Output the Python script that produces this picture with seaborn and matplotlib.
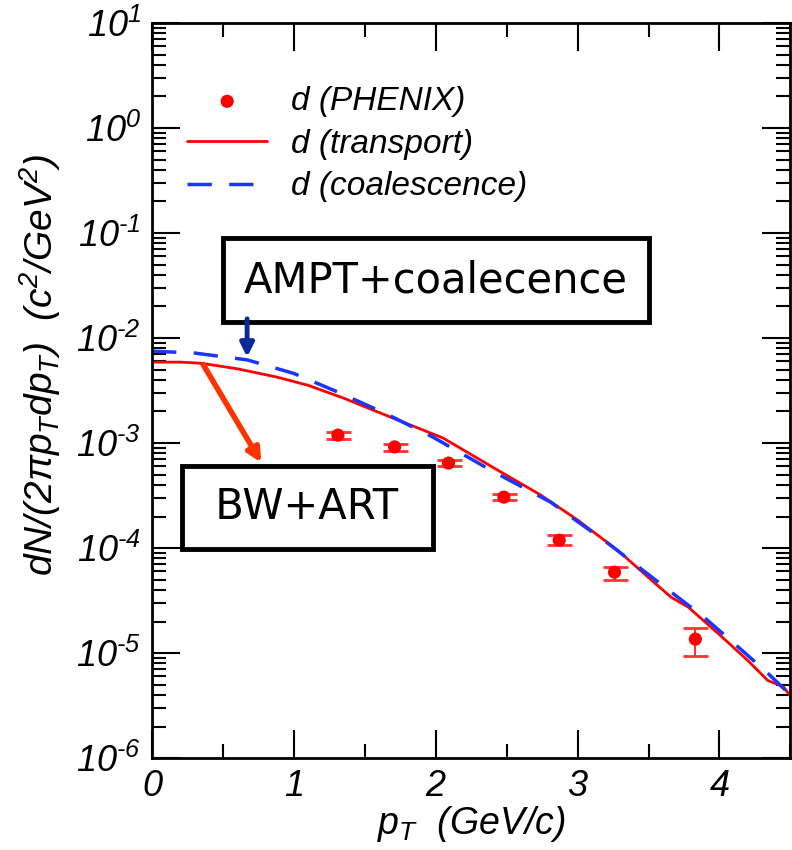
import matplotlib
matplotlib.use("Agg")
import matplotlib.pyplot as plt
import matplotlib.ticker as mticker
import numpy as np
import pandas as pd
import seaborn as sns

# PHENIX deuteron data
pt_data = [1.31, 1.71, 2.09, 2.48, 2.87, 3.26, 3.83]
y_data = [1.19e-3, 9.2e-4, 6.45e-4, 3.06e-4, 1.19e-4, 5.9e-5, 1.36e-5]
y_lo = [1.10e-3, 8.5e-4, 6.0e-4, 2.85e-4, 1.06e-4, 5.0e-5, 9.4e-6]
y_hi = [1.28e-3, 9.9e-4, 6.9e-4, 3.3e-4, 1.34e-4, 6.6e-5, 1.73e-5]

# transport curve
pt_transport = [0, 0.2, 0.35, 0.6, 0.88, 1.1, 1.35, 1.68, 2.05, 2.41, 2.74, 3.0,
                3.28, 3.54, 3.66, 3.78, 4.0, 4.2, 4.34, 4.45, 4.5]
y_transport = [5.9e-3, 5.9e-3, 5.75e-3, 5.1e-3, 4.25e-3, 3.55e-3, 2.68e-3, 1.77e-3,
               1.12e-3, 5.8e-4, 3.2e-4, 1.85e-4, 9.6e-5, 4.7e-5, 3.4e-5, 2.74e-5,
               1.5e-5, 8.5e-6, 5.5e-6, 4.8e-6, 3.9e-6]

# coalescence curve
pt_coal = [0, 0.3, 0.67, 1.0, 1.31, 1.65, 1.98, 2.4, 2.81, 3.23, 3.6, 3.89, 4.1, 4.34, 4.5]
y_coal = [7.5e-3, 7.2e-3, 6.2e-3, 4.6e-3, 3.06e-3, 1.9e-3, 1.14e-3, 5.4e-4, 2.74e-4,
          1.07e-4, 4.4e-5, 2.2e-5, 1.25e-5, 6.45e-6, 4.0e-6]

sns.set_style("ticks")
plt.rcParams['font.family'] = ['Liberation Sans', 'DejaVu Sans']
plt.rcParams.update({
    'text.color': 'black', 'axes.labelcolor': 'black',
    'xtick.color': 'black', 'ytick.color': 'black', 'axes.edgecolor': 'black',
    'axes.unicode_minus': False,
    'mathtext.fontset': 'custom',
    'mathtext.rm': 'Liberation Sans:italic',
    'mathtext.it': 'Liberation Sans:italic',
    'mathtext.sf': 'Liberation Sans:italic',
})

fig = plt.figure(figsize=(7.92, 8.5), dpi=100)
ax = fig.add_axes([0.192, 0.108, 0.806, 0.865])

df_t = pd.DataFrame({'pt': pt_transport, 'y': y_transport})
df_c = pd.DataFrame({'pt': pt_coal, 'y': y_coal})

sns.lineplot(data=df_t, x='pt', y='y', ax=ax, color='#ff0000', lw=2,
             label='d (transport)', legend=False)
sns.lineplot(data=df_c, x='pt', y='y', ax=ax, color='#1a35ff', lw=2.5,
             label='d (coalescence)', legend=False)
ax.lines[1].set_dashes([7, 5])

yerr = [np.array(y_data) - np.array(y_lo), np.array(y_hi) - np.array(y_data)]
ax.errorbar(pt_data, y_data, yerr=yerr, fmt='none', ecolor='#ff3333',
            elinewidth=1.5, capsize=9, capthick=2)
sns.scatterplot(x=pt_data, y=y_data, ax=ax, color='#ff0000', s=90,
                edgecolor='none', label='d (PHENIX)', legend=False, zorder=5)

ax.set_yscale('log')
ax.set_xlim(0, 4.5)
ax.set_ylim(1e-6, 10)


def exp_label(v, pos):
    e = round(np.log10(v))
    if e < 0:
        return r'$10^{\text{-}%d}$' % (-e)
    return r'$10^{%d}$' % e


ax.xaxis.set_major_locator(mticker.MultipleLocator(1))
ax.xaxis.set_minor_locator(mticker.MultipleLocator(0.5))
ax.yaxis.set_major_locator(mticker.LogLocator(base=10, numticks=10))
ax.yaxis.set_minor_locator(mticker.LogLocator(base=10, subs=np.arange(2, 10), numticks=10))
ax.yaxis.set_minor_formatter(mticker.NullFormatter())
ax.yaxis.set_major_formatter(mticker.FuncFormatter(exp_label))

ax.tick_params(which='both', direction='in', top=True, right=True, width=1.5)
ax.tick_params(which='major', length=20, labelsize=26, pad=8)
ax.tick_params(which='minor', length=10)
for lab in ax.get_xticklabels():
    lab.set_style('italic')
for s in ax.spines.values():
    s.set_linewidth(2)

ax.set_xlabel(r'$p_T$  (GeV/c)', fontsize=27, style='italic', labelpad=0)
ax.set_ylabel('dN/(2\u03c0$p_T$d$p_T$)  (c$^2$/GeV$^2$)', fontsize=28, style='italic')
ax.yaxis.set_label_coords(-0.14, 0.535)

# legend
h, l = ax.get_legend_handles_labels()
order = [l.index('d (PHENIX)'), l.index('d (transport)'), l.index('d (coalescence)')]
leg = ax.legend([h[i] for i in order], [l[i] for i in order], loc='upper left',
                bbox_to_anchor=(0.008, 0.955), frameon=False, fontsize=24,
                handlelength=2.4, handletextpad=0.7, labelspacing=0.35)
for t in leg.get_texts():
    t.set_style('italic')

# annotation boxes
ax.text(0.445, 0.650, 'AMPT+coalecence', transform=ax.transAxes, fontsize=30,
        family='DejaVu Sans', ha='center', va='center',
        bbox=dict(boxstyle='square,pad=0.5', fc='white', ec='black', lw=3.5), zorder=6)
ax.text(0.243, 0.341, ' BW+ART ', transform=ax.transAxes, fontsize=30,
        family='DejaVu Sans', ha='center', va='center',
        bbox=dict(boxstyle='square,pad=0.5', fc='white', ec='black', lw=3.5), zorder=6)

ax.annotate('', xy=(0.67, 6.2e-3), xytext=(0.67, 0.0162),
            arrowprops=dict(arrowstyle='-|>,head_width=0.4,head_length=0.8',
                            color='#0a2a9a', lw=3.5), zorder=7)
ax.annotate('', xy=(0.78, 6.2e-4), xytext=(0.35, 5.9e-3),
            arrowprops=dict(arrowstyle='-|>,head_width=0.4,head_length=0.8',
                            color='#ff3300', lw=4), zorder=7)

plt.savefig('out.png', dpi=100)
